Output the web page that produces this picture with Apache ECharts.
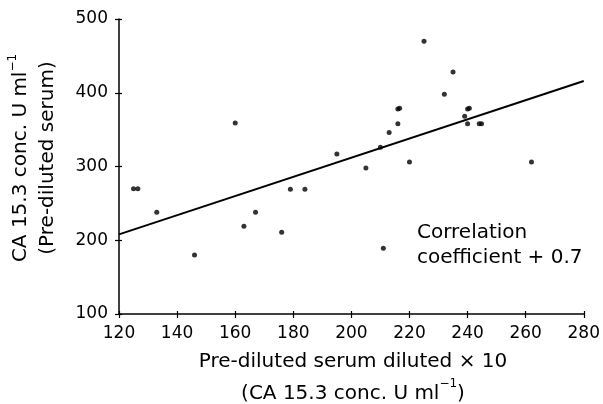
<!DOCTYPE html>
<html>
<head>
<meta charset="utf-8">
<script src="https://cdn.jsdelivr.net/npm/echarts@6/dist/echarts.min.js"></script>
<style>
  html, body { margin: 0; padding: 0; background: #fff; }
  #main { width: 603px; height: 404px; }
</style>
</head>
<body>
<div id="main"></div>
<script>
// x = pre-diluted serum diluted x10, y = pre-diluted serum (CA 15.3 U/ml)
var serumX = [125, 126.5, 133, 146, 160, 163, 167, 176, 179, 184, 195, 205, 210, 211, 213,
              216, 216, 216.6, 220, 225, 232, 235, 239, 240, 240, 240.6, 244, 244.8, 262];
var serumY = [270, 270, 238, 180, 359, 219, 238, 211, 269, 269, 317, 298, 326, 189, 346,
              358, 378, 379, 306, 470, 398, 428, 368, 358, 378, 379, 358, 358, 306];
// fitted line
var fitX = [120, 280];
var fitY = [208, 416];
var xTicks = { min: 120, max: 280, step: 20 };
var yTicks = { min: 100, max: 500, step: 100 };

var points = serumX.map(function (x, i) { return [x, serumY[i]]; });
var fitLine = fitX.map(function (x, i) { return [x, fitY[i]]; });

var font = 'DejaVu Sans';
var chart = echarts.init(document.getElementById('main'));

var baseX = {
    type: 'value',
    min: xTicks.min,
    max: xTicks.max,
    interval: xTicks.step,
    position: 'bottom',
    splitLine: { show: false },
    axisLine: { show: true, lineStyle: { color: '#000', width: 1.5 } },
    axisTick: { show: true, length: 4, lineStyle: { color: '#000', width: 1.2 } },
    axisLabel: { color: '#000', fontFamily: font, fontSize: 17, margin: 11 }
};
var baseY = {
    type: 'value',
    min: yTicks.min,
    max: yTicks.max,
    interval: yTicks.step,
    position: 'left',
    splitLine: { show: false },
    axisLine: { show: true, lineStyle: { color: '#000', width: 1.5 } },
    axisTick: { show: true, length: 4, lineStyle: { color: '#000', width: 1.2 } },
    axisLabel: { color: '#000', fontFamily: font, fontSize: 17, margin: 11 }
};
// second copies only to make the ticks cross the axis line
var innerX = echarts.util.merge(echarts.util.clone(baseX), {
    axisLine: { show: false },
    axisTick: { inside: true, length: 3 },
    axisLabel: { show: false }
}, true);
var innerY = echarts.util.merge(echarts.util.clone(baseY), {
    axisLine: { show: false },
    axisTick: { inside: true, length: 3 },
    axisLabel: { show: false }
}, true);

var titleRich = {
    a: { fontFamily: font, fontSize: 20, color: '#000', lineHeight: 32 },
    sup: { fontFamily: font, fontSize: 12, color: '#000', verticalAlign: 'top', lineHeight: 32, padding: [0, 0, 12, 0] }
};
var yRich = {
    a: { fontFamily: font, fontSize: 20, color: '#000', lineHeight: 27 },
    sup: { fontFamily: font, fontSize: 12, color: '#000', verticalAlign: 'top', lineHeight: 27, padding: [0, 0, 10, 0] }
};

chart.setOption({
    backgroundColor: '#fff',
    animation: false,
    grid: { left: 119, right: 16, top: 19, bottom: 90 },
    xAxis: [baseX, innerX],
    yAxis: [baseY, innerY],
    graphic: [
        {
            type: 'text',
            x: 353, y: 378,
            style: {
                text: '{a|Pre-diluted serum diluted × 10}\n{a|(CA 15.3 conc. U ml}{sup|−1}{a|)}',
                rich: titleRich,
                align: 'center',
                verticalAlign: 'middle'
            }
        },
        {
            type: 'text',
            x: 34, y: 158,
            rotation: Math.PI / 2,
            style: {
                text: '{a|CA 15.3 conc. U ml}{sup|−1}\n{a|(Pre-diluted serum)}',
                rich: yRich,
                align: 'center',
                verticalAlign: 'middle'
            }
        },
        {
            type: 'text',
            x: 417, y: 220,
            style: {
                text: 'Correlation\ncoefficient + 0.7',
                fontFamily: font,
                fontSize: 20,
                lineHeight: 25,
                fill: '#000',
                align: 'left',
                verticalAlign: 'top'
            }
        }
    ],
    series: [
        {
            name: 'fit',
            type: 'line',
            data: fitLine,
            symbol: 'none',
            lineStyle: { color: '#000', width: 2 },
            silent: true
        },
        {
            name: 'samples',
            type: 'scatter',
            data: points,
            symbol: 'circle',
            symbolSize: 5,
            itemStyle: { color: '#000' }
        }
    ]
});
</script>
</body>
</html>
